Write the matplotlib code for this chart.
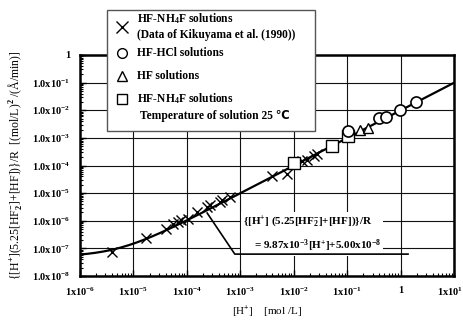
import numpy as np
import matplotlib
matplotlib.use('Agg')
import matplotlib.pyplot as plt
from matplotlib.patches import Rectangle
from matplotlib.ticker import LogLocator, NullFormatter

plt.rcParams['font.family'] = ['Liberation Serif', 'DejaVu Sans']
plt.rcParams['font.weight'] = 'bold'
plt.rcParams['mathtext.fontset'] = 'custom'
plt.rcParams['mathtext.rm'] = 'Liberation Serif:bold'
plt.rcParams['mathtext.it'] = 'Liberation Serif:bold'
plt.rcParams['mathtext.bf'] = 'Liberation Serif:bold'
plt.rcParams['mathtext.default'] = 'rm'

# Datele
kik_h = [3.9e-6, 1.74e-5, 4.1e-5, 5.6e-5, 6.9e-5, 7.9e-5, 1.07e-4, 1.55e-4, 2.35e-4,
         2.7e-4, 4.1e-4, 4.5e-4, 6.5e-4, 3.9e-3, 7.4e-3, 1.4e-2, 1.78e-2, 2.35e-2, 2.7e-2]
kik_r = [7.4e-8, 2.45e-7, 5.0e-7, 7.6e-7, 9.1e-7, 1.05e-6, 1.2e-6, 2.1e-6, 3.2e-6,
         3.7e-6, 4.9e-6, 5.6e-6, 7.4e-6, 4.2e-5, 5.1e-5, 1.48e-4, 1.58e-4, 2.2e-4, 2.6e-4]
hcl_h = [0.105, 0.39, 0.54, 0.98, 1.95]
hcl_r = [1.78e-3, 5.1e-3, 5.5e-3, 1.02e-2, 1.95e-2]
hf_h = [0.174, 0.25]
hf_r = [1.9e-3, 2.35e-3]
nh4_h = [1.02e-2, 5.1e-2, 0.105]
nh4_r = [1.2e-4, 5.1e-4, 1.2e-3]

# Dreapta de regresie (din ecuatia afisata)
slope = 9.87e-3
intercept = 5.00e-8

x_ticks = [1e-6, 1e-5, 1e-4, 1e-3, 1e-2, 1e-1, 1, 10]
x_labels = [r'1x10$^{-6}$', r'1x10$^{-5}$', r'1x10$^{-4}$', r'1x10$^{-3}$',
            r'1x10$^{-2}$', r'1x10$^{-1}$', '1', r'1x10$^{1}$']
y_ticks = [1e-8, 1e-7, 1e-6, 1e-5, 1e-4, 1e-3, 1e-2, 1e-1, 1]
y_labels = [r'1.0x10$^{-8}$', r'1.0x10$^{-7}$', r'1.0x10$^{-6}$', r'1.0x10$^{-5}$',
            r'1.0x10$^{-4}$', r'1.0x10$^{-3}$', r'1.0x10$^{-2}$', r'1.0x10$^{-1}$', '1']

W, H = 464, 322
fig = plt.figure(figsize=(W / 100, H / 100), dpi=100)
ax = fig.add_axes([80 / W, 46 / H, 374 / W, 221 / H])
ax.set_xscale('log')
ax.set_yscale('log')
ax.set_xlim(1e-6, 10)
ax.set_ylim(1e-8, 1)

ax.grid(True, which='major', color='#111111', lw=0.8)
# ultima eticheta x se pune separat (altfel e taiata la margine)
ax.set_xticks(x_ticks, x_labels[:-1] + [''], fontsize=7.5)
ax.set_yticks(y_ticks, y_labels, fontsize=7.5)
ax.xaxis.set_minor_locator(LogLocator(base=10, subs=np.arange(2, 10), numticks=20))
ax.yaxis.set_minor_locator(LogLocator(base=10, subs=np.arange(2, 10), numticks=20))
ax.xaxis.set_minor_formatter(NullFormatter())
ax.yaxis.set_minor_formatter(NullFormatter())
ax.tick_params(which='major', direction='in', length=4, width=1, pad=7)
ax.tick_params(which='minor', direction='in', length=2, width=0.8)
for s in ax.spines.values():
    s.set_linewidth(1.8)

# curba
xs = np.logspace(-6, 1, 200)
ax.plot(xs, slope * xs + intercept, color='k', lw=1.6, zorder=3)

ax.plot(kik_h, kik_r, 'x', color='k', ms=7.5, mew=1.0, zorder=4)
ax.plot(nh4_h, nh4_r, 's', mfc='white', mec='k', ms=9, mew=1.0, zorder=4)
ax.plot(hf_h, hf_r, '^', mfc='white', mec='k', ms=7.5, mew=1.0, zorder=4)
ax.plot(hcl_h, hcl_r, 'o', mfc='white', mec='k', ms=8, mew=1.2, zorder=5)

# adnotare ecuatie
ax.plot([2.4e-4, 7.9e-4, 1.38], [1.9e-6, 6.2e-8, 6.2e-8], color='k', lw=1.2, zorder=7)
ax.text(0.435, 0.19, '{[H$^{+}$] (5.25[HF$_{2}^{-}$]+[HF])}/R\n    = 9.87x10$^{-3}$[H$^{+}$]+5.00x10$^{-8}$',
        transform=ax.transAxes, fontsize=8, va='center', ha='left', linespacing=1.7,
        bbox=dict(facecolor='white', edgecolor='none', pad=1.5), zorder=6)

ax.set_xlabel('[H$^{+}$]    [mol /L]', fontsize=8, labelpad=5)
ax.set_ylabel('{[H$^{+}$](5.25[HF$_{2}^{-}$]+[HF])}/R  [(mol/L)$^{2}$ /(Å/min)]',
              fontsize=8.5, labelpad=6)

# legenda desenata in pixeli
lax = fig.add_axes([0, 0, 1, 1], zorder=10)
lax.set_xlim(0, W)
lax.set_ylim(H, 0)
lax.axis('off')
lax.text(463, 292, x_labels[-1], fontsize=7.5, ha='right', va='center')
lax.add_patch(Rectangle((107, 10), 208, 121, facecolor='white', edgecolor='#555555', lw=1.0))
lax.plot(122, 27, 'x', color='k', ms=8, mew=1.0)
lax.plot(122, 53, 'o', mfc='white', mec='k', ms=7, mew=1.0)
lax.plot(122, 76, '^', mfc='white', mec='k', ms=7, mew=1.0)
lax.plot(122, 99, 's', mfc='white', mec='k', ms=7, mew=1.0)
leg_texts = [(137, 19, 'HF-NH$_{4}$F solutions'),
             (137, 35, '(Data of Kikuyama et al. (1990))'),
             (137, 53, 'HF-HCl solutions'),
             (137, 76, 'HF solutions'),
             (137, 99, 'HF-NH$_{4}$F solutions'),
             (140, 116, 'Temperature of solution 25 ℃')]
for tx, ty, t in leg_texts:
    lax.text(tx, ty, t, fontsize=8.3, va='center', ha='left')

fig.savefig('out.png', dpi=100)
